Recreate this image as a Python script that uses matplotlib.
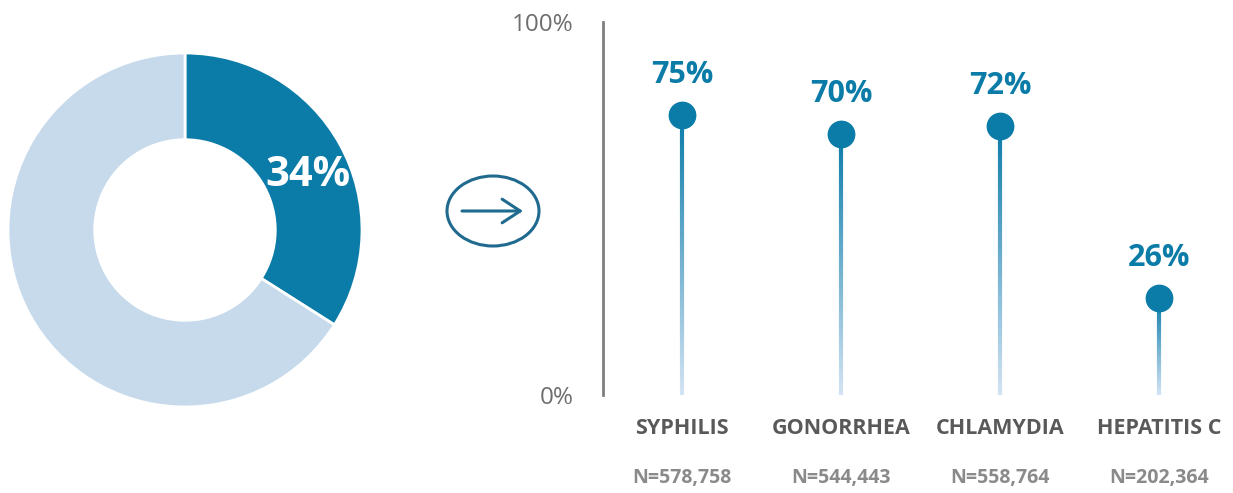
import matplotlib.pyplot as plt
import numpy as np
from matplotlib.collections import LineCollection
from matplotlib.colors import LinearSegmentedColormap
from matplotlib.patches import Ellipse

# ============================================================
# Datos
# ============================================================
donut_share = 34
categories = ["SYPHILIS", "GONORRHEA", "CHLAMYDIA", "HEPATITIS C"]
values = [75, 70, 72, 26]
n_labels = ["N=578,758", "N=544,443", "N=558,764", "N=202,364"]

dark = "#0B7BA8"
light = "#C6DAEC"
grad = LinearSegmentedColormap.from_list("stem", ["#D2E3F3", "#0B7BA8"])

plt.rcParams['font.family'] = ['Open Sans', 'DejaVu Sans']

W, H = 1233, 493
fig = plt.figure(figsize=(W / 100, H / 100), dpi=100)

# ============================================================
# Donut
# ============================================================
cx, cy, R = 185, 230, 177
box = 180
ax_d = fig.add_axes([(cx - box) / W, (H - cy - box) / H, 2 * box / W, 2 * box / H])
ax_d.pie([donut_share, 100 - donut_share], colors=[dark, light], startangle=90,
         counterclock=False, radius=1,
         wedgeprops=dict(width=0.49, edgecolor="white", linewidth=2))
lim = box / R
ax_d.set_xlim(-lim, lim)
ax_d.set_ylim(-lim, lim)
ax_d.set_aspect("equal")
ax_d.text((308 - cx) / R, (cy - 175) / R, f"{donut_share}%", color="white",
          fontsize=30, fontweight="bold", ha="center", va="center")

# ============================================================
# Lollipop
# ============================================================
x0, y_top, y_bot = 603, 22, 395
step = 159
first = 682
left = -(first - x0) / step
right = 3.5
ax = fig.add_axes([x0 / W, (H - y_bot) / H, (right - left) * step / W, (y_bot - y_top) / H])
ax.set_xlim(left, right)
ax.set_ylim(0, 100)

x = np.arange(len(categories))
for i, v in enumerate(values):
    ys = np.linspace(0, v, 80)
    segs = [[(x[i], ys[j]), (x[i], ys[j + 1])] for j in range(len(ys) - 1)]
    lc = LineCollection(segs, colors=grad(np.linspace(0, 1, len(segs))),
                        linewidths=3, capstyle="butt")
    ax.add_collection(lc)
ax.plot(x, values, "o", color=dark, markersize=19, zorder=3)

for i, v in enumerate(values):
    ax.text(x[i], v + 10.8, f"{v}%", color=dark, fontsize=22, fontweight="bold",
            ha="center", va="center")
    ax.text(x[i], -8.9, categories[i], color="#595959", fontsize=15.5,
            fontweight="bold", ha="center", va="center", clip_on=False)
    ax.text(x[i], -22.3, n_labels[i], color="#8A8A8A", fontsize=14,
            fontweight="bold", ha="center", va="center", clip_on=False)

for s in ["top", "right", "bottom"]:
    ax.spines[s].set_visible(False)
ax.spines["left"].set_color("#7F7F7F")
ax.spines["left"].set_linewidth(2)
ax.set_xticks([])
ax.set_yticks([0, 100])
ax.set_yticklabels(["0%", "100%"], color="#6E6E6E", fontsize=17.5)
ax.tick_params(axis="y", length=0, pad=21)

# ============================================================
# Flecha en círculo
# ============================================================
ov = fig.add_axes([0, 0, 1, 1])
ov.set_xlim(0, W)
ov.set_ylim(H, 0)
ov.axis("off")
ov.patch.set_alpha(0)
ov.add_patch(Ellipse((493, 211), 92, 70, fill=False, edgecolor="#1F6A8E", linewidth=2.2))
ov.annotate("", xy=(523, 211), xytext=(462, 211),
            arrowprops=dict(arrowstyle="->,head_length=1.3,head_width=0.85",
                            color="#1F6A8E", lw=2.2, shrinkA=0, shrinkB=0))

plt.savefig("out.png", dpi=100)
